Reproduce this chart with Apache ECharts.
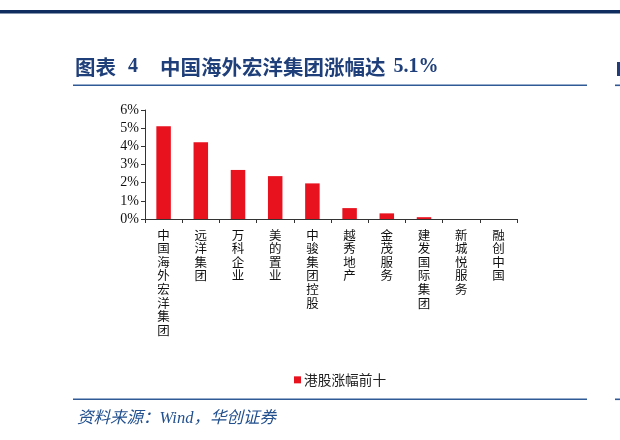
<!DOCTYPE html>
<html>
<head>
<meta charset="utf-8">
<script src="https://cdn.jsdelivr.net/npm/echarts@6/dist/echarts.min.js"></script>
<style>
  html, body { margin: 0; padding: 0; background: #fff; }
  #chart { width: 620px; height: 440px; }
</style>
</head>
<body>
<div id="chart"></div>
<script>
// 数据
const categories = ['中国海外宏洋集团', '远洋集团', '万科企业', '美的置业', '中骏集团控股', '越秀地产', '金茂服务', '建发国际集团', '新城悦服务', '融创中国']
const gains = [5.1, 4.22, 2.7, 2.36, 1.96, 0.6, 0.31, 0.1, 0, 0]
const yTicks = [0, 1, 2, 3, 4, 5, 6]
const seriesName = '港股涨幅前十'

const navy = '#1f3f7a'
const lineBlue = '#2f5a96'
const serif = '"Liberation Serif", "Noto Sans CJK SC", serif'

const chart = echarts.init(document.getElementById('chart'))
const option = {
    animation: false,
    title: [
        {
            text: '{a|图表}{b|4}{a|中国海外宏洋集团涨幅达}{c|5.1%}',
            left: 75,
            top: 57,
            padding: 0,
            textStyle: {
                rich: {
                    a: { fontFamily: '"Noto Sans CJK SC", sans-serif', fontSize: 20.5, fontWeight: 'bold', color: navy },
                    b: { fontFamily: serif, fontSize: 20, fontWeight: 'bold', color: navy, padding: [0, 22, 0, 12] },
                    c: { fontFamily: serif, fontSize: 20, fontWeight: 'bold', color: navy, padding: [0, 0, 0, 8] }
                }
            }
        },
        {
            text: '资料来源：Wind，华创证券',
            left: 77,
            top: 410,
            padding: 0,
            textStyle: {
                fontFamily: serif,
                fontSize: 16.5,
                fontStyle: 'italic',
                fontWeight: 'normal',
                color: '#22508f'
            }
        }
    ],
    // 图例设置
    legend: {
        data: [seriesName],
        left: 294,
        top: 373,
        padding: 0,
        icon: 'rect',
        itemWidth: 7,
        itemHeight: 7,
        itemGap: 4,
        textStyle: {
            fontFamily: '"Noto Sans CJK SC", sans-serif',
            fontSize: 13.7,
            color: '#222',
            padding: [0, 0, 0, -2]
        }
    },
    grid: {
        left: 145,
        right: 103,
        top: 110,
        bottom: 221,
        containLabel: false
    },
    xAxis: {
        type: 'category',
        data: categories,
        axisLine: { lineStyle: { color: '#333', width: 1 } },
        axisTick: { show: true, length: 4, lineStyle: { color: '#333' } },
        axisLabel: {
            interval: 0,
            margin: 9,
            fontFamily: '"Noto Sans CJK SC", serif',
            fontSize: 12.5,
            lineHeight: 13.6,
            color: '#111',
            verticalAlign: 'top',
            formatter: (v) => v.split('').join('\n')
        }
    },
    yAxis: {
        type: 'value',
        min: yTicks[0],
        max: yTicks[yTicks.length - 1],
        interval: 1,
        splitLine: { show: false },
        axisLine: { show: true, lineStyle: { color: '#333', width: 1 } },
        axisTick: { show: true, length: 4, lineStyle: { color: '#333' } },
        axisLabel: {
            margin: 6,
            fontFamily: serif,
            fontSize: 14,
            color: '#111',
            formatter: '{value}%'
        }
    },
    series: [
        {
            name: seriesName,
            type: 'bar',
            data: gains,
            barWidth: '39%',
            itemStyle: { color: '#e8121f' }
        }
    ],
    graphic: [
        { type: 'rect', shape: { x: 0, y: 10, width: 620, height: 3.5 }, style: { fill: '#0f2d5e' } },
        { type: 'rect', shape: { x: 73, y: 84.5, width: 514, height: 1.6 }, style: { fill: lineBlue } },
        { type: 'rect', shape: { x: 73, y: 398.5, width: 514, height: 1.6 }, style: { fill: lineBlue } },
        { type: 'rect', shape: { x: 615, y: 84.5, width: 5, height: 1.6 }, style: { fill: lineBlue } },
        { type: 'rect', shape: { x: 615, y: 398.5, width: 5, height: 1.6 }, style: { fill: lineBlue } },
        { type: 'rect', shape: { x: 617, y: 62, width: 3, height: 14 }, style: { fill: navy } }
    ]
}
chart.setOption(option)
</script>
</body>
</html>
